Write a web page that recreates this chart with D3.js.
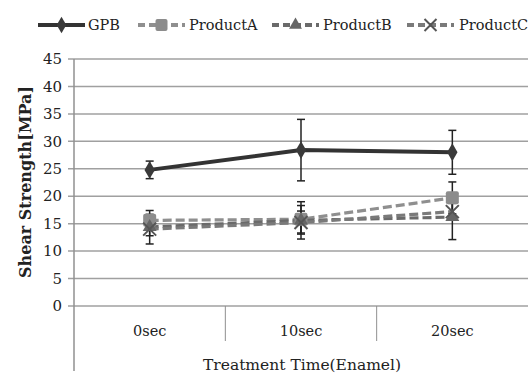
<!DOCTYPE html>
<html>
<head>
<meta charset="utf-8">
<script src="https://cdn.jsdelivr.net/npm/d3@7"></script>
<style>
  body { margin: 0; background: #fff; }
  svg { display: block; font-family: "DejaVu Serif", serif; }
</style>
</head>
<body>
<script>
// Chart values
const categories = ["0sec", "10sec", "20sec"];
const seriesNames = ["GPB", "ProductA", "ProductB", "ProductC"];
const gpbValues = [24.8, 28.4, 28.0];
const gpbErrors = [1.6, 5.6, 4.0];
const productAValues = [15.6, 15.8, 19.7];
const productAErrors = [1.8, 2.5, 2.9];
const productBValues = [14.4, 15.6, 16.2];
const productBErrors = [1.6, 3.4, 4.1];
const productCValues = [14.0, 15.2, 17.2];
const productCErrors = [2.7, 2.1, 1.5];
const yTicks = [0, 5, 10, 15, 20, 25, 30, 35, 40, 45];

const width = 528, height = 375;
const plot = { left: 74, right: 528, top: 59, bottom: 306 };

const series = [
    { name: seriesNames[0], values: gpbValues, errors: gpbErrors, color: "#333", dash: null, marker: "diamond", fill: "#3a3a3a" },
    { name: seriesNames[1], values: productAValues, errors: productAErrors, color: "#8f8f8f", dash: "9,4", marker: "square", fill: "#8c8c8c" },
    { name: seriesNames[2], values: productBValues, errors: productBErrors, color: "#6a6a6a", dash: "9,4", marker: "triangle", fill: "#666" },
    { name: seriesNames[3], values: productCValues, errors: productCErrors, color: "#7a7a7a", dash: "9,4", marker: "x", fill: "#555" }
];

const svg = d3.select("body").append("svg")
    .attr("width", width)
    .attr("height", height);

const x = d3.scaleBand().domain(categories).range([plot.left, plot.right]).padding(0);
const y = d3.scaleLinear().domain([0, 45]).range([plot.bottom, plot.top]);
const cx = c => x(c) + x.bandwidth() / 2;

// gridlines
svg.append("g")
    .selectAll("line")
    .data(yTicks)
    .join("line")
    .attr("x1", plot.left - 6)
    .attr("x2", plot.right)
    .attr("y1", d => y(d))
    .attr("y2", d => y(d))
    .attr("stroke", "#a0a0a0")
    .attr("stroke-width", 1.5);

// y tick labels
svg.append("g")
    .selectAll("text")
    .data(yTicks)
    .join("text")
    .attr("x", 62)
    .attr("y", d => y(d))
    .attr("dy", "0.35em")
    .attr("text-anchor", "end")
    .attr("font-size", 15)
    .attr("fill", "#222")
    .text(d => d);

// vertical axis line (runs through category label area)
svg.append("line")
    .attr("x1", plot.left).attr("x2", plot.left)
    .attr("y1", plot.top).attr("y2", 371)
    .attr("stroke", "#909090")
    .attr("stroke-width", 1.5);

// category dividers below axis
svg.append("g")
    .selectAll("line")
    .data(categories.slice(1))
    .join("line")
    .attr("x1", d => x(d)).attr("x2", d => x(d))
    .attr("y1", plot.bottom).attr("y2", 341)
    .attr("stroke", "#909090")
    .attr("stroke-width", 1);

// category labels
svg.append("g")
    .selectAll("text")
    .data(categories)
    .join("text")
    .attr("x", d => cx(d))
    .attr("y", 336)
    .attr("text-anchor", "middle")
    .attr("font-size", 14.5)
    .attr("fill", "#222")
    .text(d => d);

// axis titles
svg.append("text")
    .attr("x", 302)
    .attr("y", 370)
    .attr("text-anchor", "middle")
    .attr("font-size", 15.5)
    .attr("fill", "#222")
    .text("Treatment Time(Enamel)");

svg.append("text")
    .attr("transform", "translate(31,182) rotate(-90)")
    .attr("text-anchor", "middle")
    .attr("font-size", 16)
    .attr("font-weight", "bold")
    .attr("fill", "#222")
    .text("Shear Strength[MPa]");

// marker drawing
function drawMarker(g, type, fill, size) {
    if (type === "diamond") {
        g.append("path").attr("d", d3.symbol(d3.symbolDiamond, size * size * 0.55)()).attr("fill", fill);
    } else if (type === "square") {
        g.append("rect").attr("x", -size / 2).attr("y", -size / 2)
            .attr("width", size).attr("height", size).attr("rx", 2).attr("fill", fill);
    } else if (type === "triangle") {
        g.append("path").attr("d", d3.symbol(d3.symbolTriangle, size * size * 0.5)()).attr("fill", fill);
    } else if (type === "x") {
        const h = size / 2;
        g.append("path").attr("d", `M${-h},${-h}L${h},${h}M${-h},${h}L${h},${-h}`)
            .attr("stroke", fill).attr("stroke-width", 2).attr("fill", "none");
    }
}

const line = d3.line()
    .x(d => cx(d.cat))
    .y(d => y(d.v));

// lines (GPB last so it sits on top)
[1, 2, 3, 0].forEach(i => {
    const s = series[i];
    const pts = categories.map((c, k) => ({ cat: c, v: s.values[k] }));
    svg.append("path")
        .attr("d", line(pts))
        .attr("fill", "none")
        .attr("stroke", s.color)
        .attr("stroke-width", s.dash ? 3.2 : 4)
        .attr("stroke-dasharray", s.dash);
});

// error bars
series.forEach(s => {
    const g = svg.append("g").attr("stroke", "#222").attr("stroke-width", 1.5);
    categories.forEach((c, k) => {
        const top = y(s.values[k] + s.errors[k]);
        const bot = y(s.values[k] - s.errors[k]);
        g.append("line").attr("x1", cx(c)).attr("x2", cx(c)).attr("y1", top).attr("y2", bot);
        g.append("line").attr("x1", cx(c) - 4).attr("x2", cx(c) + 4).attr("y1", top).attr("y2", top);
        g.append("line").attr("x1", cx(c) - 4).attr("x2", cx(c) + 4).attr("y1", bot).attr("y2", bot);
    });
});

// markers
series.forEach(s => {
    categories.forEach((c, k) => {
        const g = svg.append("g").attr("transform", `translate(${cx(c)},${y(s.values[k])})`);
        drawMarker(g, s.marker, s.fill, 13);
    });
});

// legend
const legendItems = [
    { x0: 38, textX: 88 },
    { x0: 138, textX: 189 },
    { x0: 272, textX: 323 },
    { x0: 407, textX: 459 }
];
const legendY = 25;
series.forEach((s, i) => {
    const li = legendItems[i];
    const g = svg.append("g");
    g.append("line")
        .attr("x1", li.x0).attr("x2", li.x0 + 47)
        .attr("y1", legendY).attr("y2", legendY)
        .attr("stroke", s.color)
        .attr("stroke-width", 4)
        .attr("stroke-dasharray", s.dash ? "7,4" : null);
    const m = g.append("g").attr("transform", `translate(${li.x0 + 23.5},${legendY})`);
    drawMarker(m, s.marker, s.fill, 12);
    g.append("text")
        .attr("x", li.textX)
        .attr("y", legendY)
        .attr("dy", "0.35em")
        .attr("font-size", 14.5)
        .attr("fill", "#222")
        .text(s.name);
});
</script>
</body>
</html>
